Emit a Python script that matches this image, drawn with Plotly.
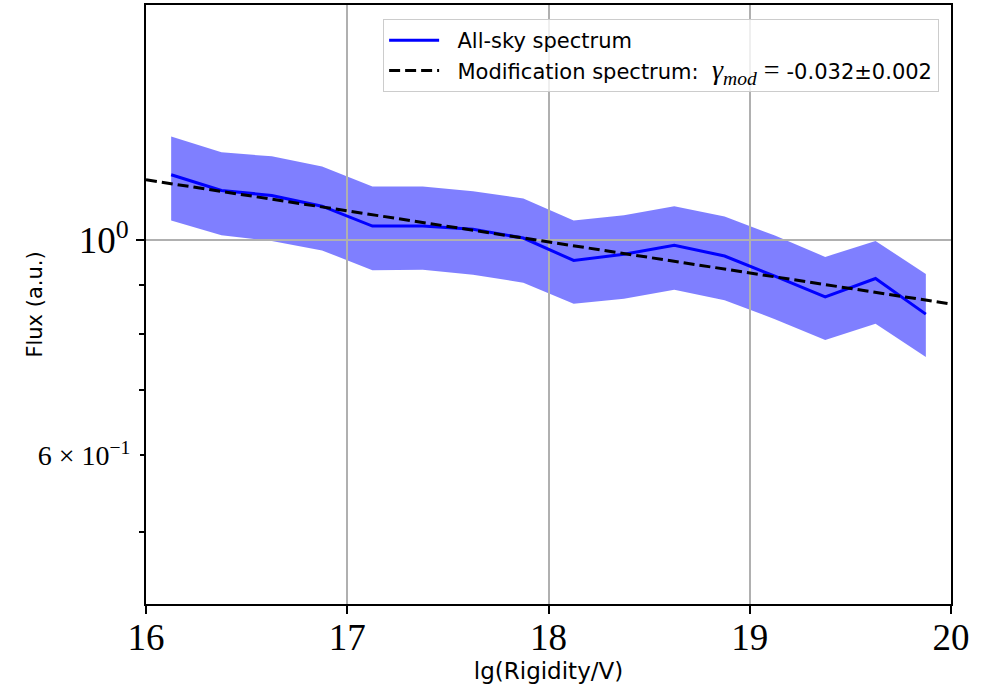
import plotly.graph_objects as go

# Rigidity bins (lg R / V) and the all-sky flux with its uncertainty band
lg_rigidity = [16.125, 16.375, 16.625, 16.875, 17.125, 17.375, 17.625, 17.875,
               18.125, 18.375, 18.625, 18.875, 19.125, 19.375, 19.625, 19.875]
flux = [1.168, 1.125, 1.112, 1.084, 1.034, 1.034, 1.026, 1.005,
        0.953, 0.967, 0.988, 0.963, 0.918, 0.874, 0.913, 0.839]
flux_upper = [1.279, 1.232, 1.220, 1.191, 1.136, 1.136, 1.123, 1.104,
              1.048, 1.061, 1.084, 1.058, 1.011, 0.961, 0.998, 0.923]
flux_lower = [1.048, 1.012, 0.998, 0.976, 0.931, 0.932, 0.921, 0.904,
              0.860, 0.870, 0.889, 0.867, 0.829, 0.789, 0.820, 0.758]

# Modification spectrum: power law in rigidity with index gamma_mod
gamma_mod = -0.032
gamma_err = 0.002
mod_x = [16.0, 20.0]
mod_norm = 1.154  # flux of the modification spectrum at lg R = 16
mod_flux = [mod_norm * 10 ** (gamma_mod * (x - mod_x[0])) for x in mod_x]

x_ticks = [16, 17, 18, 19, 20]
x_tick_labels = ["16", "17", "18", "19", "20"]
y_major = [1.0]
y_major_labels = ["10<sup>0</sup>"]
y_minor = [0.5, 0.7, 0.8, 0.9]
y_labeled_minor = [0.6]
y_labeled_minor_text = ["6 × 10<sup>−1</sup>"]

x_range = [16, 20]
y_range_log = [-0.3749, 0.2423]

SERIF = "Liberation Serif"
SANS = "DejaVu Sans"
GAP = "\u00a0\u00a0"  # spacing between legend sample and its text

fig = go.Figure()

# Uncertainty band (lower subplot, so the grid of the upper subplot lies over it)
fig.add_trace(go.Scatter(x=lg_rigidity, y=flux_lower, mode="lines",
                         line=dict(width=0), showlegend=False, hoverinfo="skip",
                         xaxis="x", yaxis="y"))
fig.add_trace(go.Scatter(x=lg_rigidity, y=flux_upper, mode="lines",
                         line=dict(width=0), fill="tonexty",
                         fillcolor="rgba(0,0,255,0.5)", showlegend=False,
                         hoverinfo="skip", xaxis="x", yaxis="y"))

# Spectrum and modification fit (upper subplot)
fig.add_trace(go.Scatter(x=lg_rigidity, y=flux, mode="lines",
                         line=dict(color="#0000ff", width=3),
                         name=GAP + "All-sky spectrum", xaxis="x2", yaxis="y2"))
mod_label = (GAP + "Modification spectrum:  "
             f"<span style=\"font-family:'{SERIF}';font-size:28px\"><i>γ</i>"
             f"<sub><i>mod</i></sub> = </span>"
             f"{gamma_mod:.3f}±{gamma_err:.3f}")
fig.add_trace(go.Scatter(x=mod_x, y=mod_flux, mode="lines",
                         line=dict(color="black", width=3, dash="11px,5px"),
                         name=mod_label, xaxis="x2", yaxis="y2"))

fig.update_layout(
    width=987, height=692,
    margin=dict(l=146, r=36, t=3, b=88),
    paper_bgcolor="white", plot_bgcolor="rgba(0,0,0,0)",
    font=dict(family=SANS, color="black"),
    xaxis=dict(domain=[0, 1], anchor="y", range=x_range, showgrid=False,
               zeroline=False, showticklabels=False, ticks="", showline=False),
    yaxis=dict(domain=[0, 1], anchor="x", type="log", range=y_range_log,
               showgrid=False, zeroline=False, showline=False,
               tickmode="array", tickvals=y_labeled_minor,
               ticktext=y_labeled_minor_text, ticks="outside", ticklen=5,
               tickwidth=1.5, tickcolor="black",
               tickfont=dict(family=SERIF, size=28, color="black"),
               ticklabelstandoff=4),
    xaxis2=dict(domain=[0, 1], anchor="y2", range=x_range,
                tickmode="array", tickvals=x_ticks, ticktext=x_tick_labels,
                ticks="outside", ticklen=8, tickwidth=1.5, tickcolor="black",
                tickfont=dict(family=SERIF, size=37, color="black"),
                ticklabelstandoff=-8,
                showgrid=True, gridcolor="#b0b0b0", gridwidth=1.5,
                zeroline=False, showline=True, mirror=True,
                linecolor="black", linewidth=1.8,
                title=dict(text="lg(Rigidity/V)", standoff=6,
                           font=dict(family=SANS, size=23, color="black"))),
    yaxis2=dict(domain=[0, 1], anchor="x2", type="log", range=y_range_log,
                tickmode="array", tickvals=y_major, ticktext=y_major_labels,
                ticks="outside", ticklen=8, tickwidth=1.5, tickcolor="black",
                tickfont=dict(family=SERIF, size=37, color="black"),
                minor=dict(tickmode="array", tickvals=y_minor, ticks="outside",
                           ticklen=5, tickwidth=1.5, tickcolor="black",
                           showgrid=False),
                showgrid=True, gridcolor="#b0b0b0", gridwidth=1.5,
                zeroline=False, showline=True, mirror=True,
                linecolor="black", linewidth=1.8,
                title=dict(text="Flux (a.u.)", standoff=30,
                           font=dict(family=SANS, size=21, color="black"))),
    legend=dict(x=0.985, y=0.977, xanchor="right", yanchor="top",
                xref="paper", yref="paper", traceorder="normal",
                itemwidth=50,
                bgcolor="rgba(255,255,255,0.8)", bordercolor="#cccccc",
                borderwidth=1.2, font=dict(family=SANS, size=21, color="black"),
                tracegroupgap=0),
)

fig.write_html("out.html")
